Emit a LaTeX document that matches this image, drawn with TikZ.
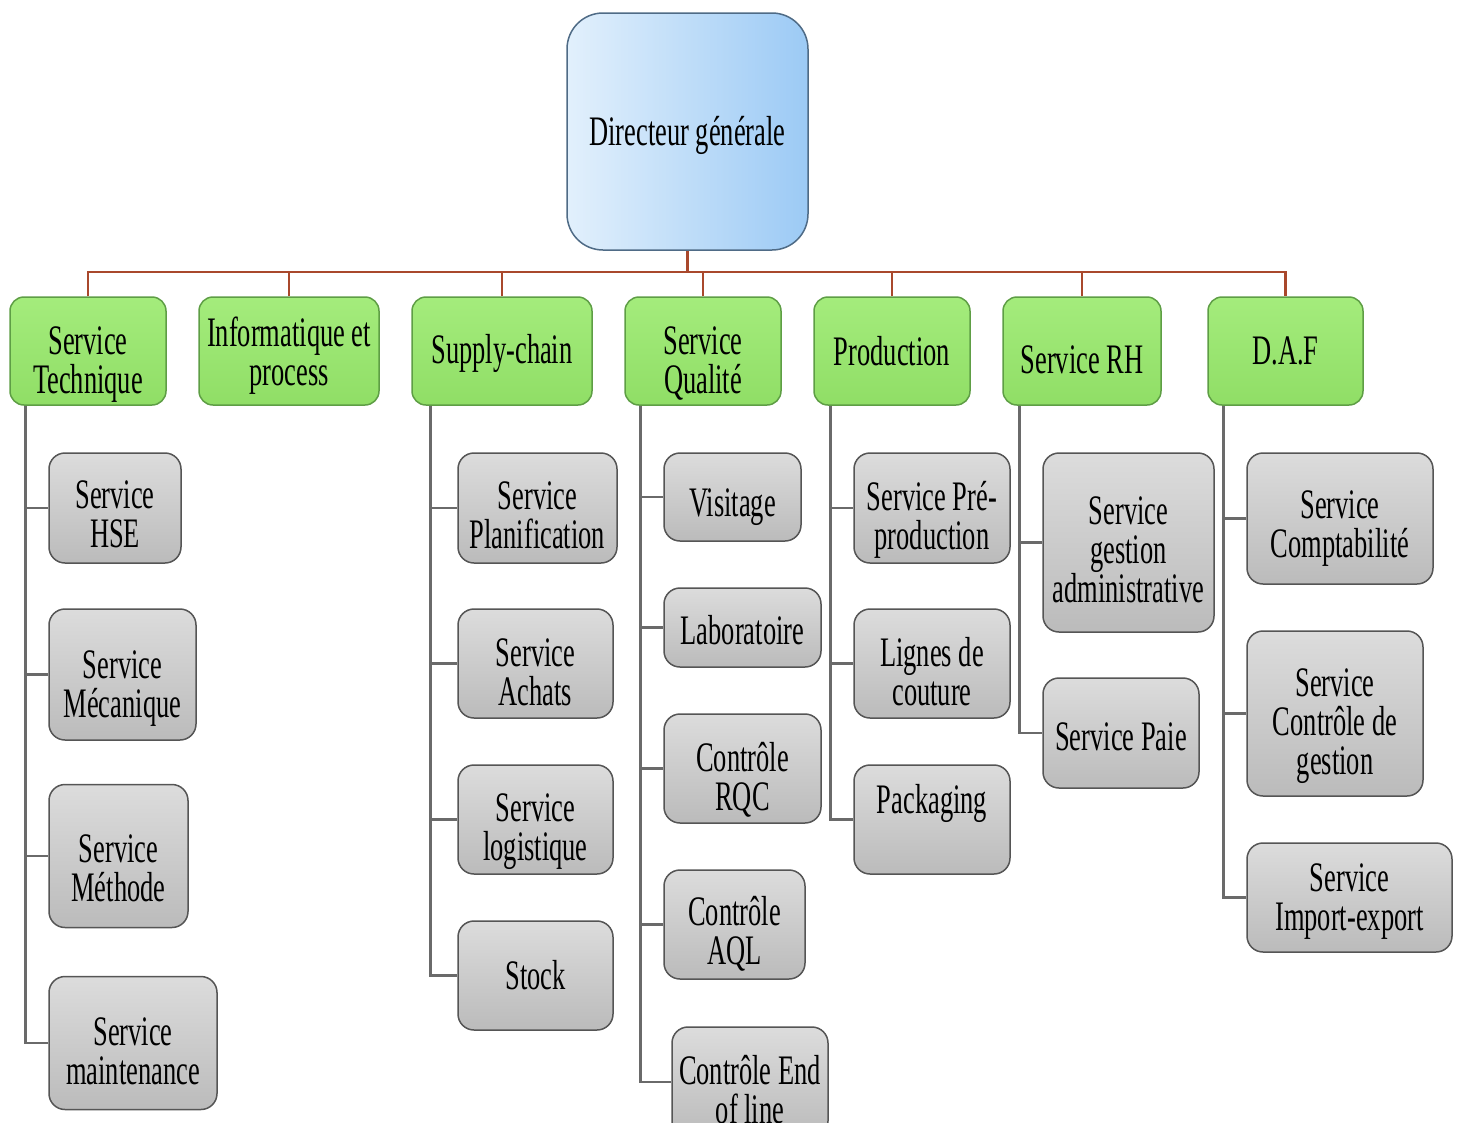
\documentclass[tikz,border=0pt]{standalone}
\usepackage{fontspec}
\setmainfont[FakeStretch=0.63]{Liberation Serif}
\usetikzlibrary{calc}

\definecolor{dirL}{HTML}{E2F0FC}
\definecolor{dirR}{HTML}{9CCAF5}
\definecolor{dirB}{HTML}{4F6B86}
\definecolor{grnT}{HTML}{A4EC7C}
\definecolor{grnB}{HTML}{90DE66}
\definecolor{grnD}{HTML}{5E9E45}
\definecolor{gryT}{HTML}{DCDCDC}
\definecolor{gryB}{HTML}{BBBBBB}
\definecolor{gryD}{HTML}{555555}
\definecolor{busC}{HTML}{A9482C}
\definecolor{lnkC}{HTML}{6A6A6A}

% strut on a first line that lowers the text of a box by #1 pt
\newcommand\txtdown[1]{\rule{0pt}{\numexpr 29+2*#1\relax pt}}

\tikzset{
  box/.style={align=center, inner sep=0pt, text=black,
              font=\fontsize{42}{39}\selectfont},
  sz/.style 2 args={minimum width=#1pt, minimum height=#2pt},
  dirbox/.style={box, draw=dirB, line width=1.5pt, rounded corners=36pt,
                 left color=dirL, right color=dirR},
  unitbox/.style={box, draw=grnD, line width=1.5pt, rounded corners=14pt,
                  top color=grnT, bottom color=grnB, sz={#1}{108}},
  subbox/.style={box, draw=gryD, line width=1.5pt, rounded corners=16pt,
                 top color=gryT, bottom color=gryB},
  bus/.style={draw=busC, line width=2.2pt},
  link/.style={draw=lnkC, line width=2.6pt},
}

\begin{document}
\begin{tikzpicture}[x=1pt, y=-1pt]
\useasboundingbox (0,0) rectangle (1461,1122);

% general management
\node[dirbox, sz={241}{237}] (dir) at (687.5,131.5) {\txtdown{4}Directeur générale};

% departments
\node[unitbox=156] (tech)   at (88,351)     {\txtdown{13}Service\\Technique};
\node[unitbox=180] (info)   at (289,351)    {\txtdown{5}Informatique et\\process};
\node[unitbox=180] (supply) at (502,351)    {\txtdown{3}Supply-chain};
\node[unitbox=156] (qual)   at (703,351)    {\txtdown{12}Service\\Qualité};
\node[unitbox=156] (prod)   at (892,351)    {Production};
\node[unitbox=158] (rh)     at (1082,351)   {\txtdown{8}Service RH};
\node[unitbox=155] (daf)    at (1285.5,351) {D.A.F};

% technical services
\node[subbox, sz={132}{110}] (hse)   at (115,508)     {\txtdown{6}Service\\HSE};
\node[subbox, sz={147}{131}] (meca)  at (122.5,674.5) {\txtdown{13}Service\\Mécanique};
\node[subbox, sz={139}{143}] (meth)  at (118.5,856)   {\txtdown{12}Service\\Méthode};
\node[subbox, sz={168}{133}] (maint) at (133,1043)    {\txtdown{8}Service\\maintenance};

% supply chain
\node[subbox, sz={159}{110}] (plan)   at (537.5,508)   {\txtdown{7}Service\\Planification};
\node[subbox, sz={155}{109}] (achats) at (535.5,663.5) {\txtdown{8}Service\\Achats};
\node[subbox, sz={155}{109}] (logi)   at (535.5,819.5) {\txtdown{12}Service\\logistique};
\node[subbox, sz={155}{109}] (stock)  at (535.5,975.5) {Stock};

% quality
\node[subbox, sz={137}{88}]  (visit) at (732.5,497)   {\txtdown{10}Visitage};
\node[subbox, sz={157}{79}]  (labo)  at (742.5,627.5) {\txtdown{3}Laboratoire};
\node[subbox, sz={157}{109}] (rqc)   at (742.5,768.5) {\txtdown{11}Contrôle\\RQC};
\node[subbox, sz={141}{109}] (aql)   at (734.5,924.5) {\txtdown{9}Contrôle\\AQL};
\node[subbox, sz={156}{110}] (eol)   at (750,1082)    {\txtdown{8}Contrôle End\\of line};

% production
\node[subbox, sz={156}{110}] (prepro) at (932,508)   {\txtdown{12}Service Pré-\\production};
\node[subbox, sz={156}{109}] (lignes) at (932,663.5) {\txtdown{8}Lignes de\\couture};
\node[subbox, sz={156}{109}, text depth=41pt] (pack) at (932,819.5) {Packaging};

% human resources
\node[subbox, sz={171}{179}] (gadm) at (1128.5,542.5) {\txtdown{7}Service\\gestion\\administrative};
\node[subbox, sz={156}{110}] (paie) at (1121,733)     {\txtdown{3}Service Paie};

% finance
\node[subbox, sz={186}{131}] (compta) at (1340,518.5)   {\txtdown{9}Service\\Comptabilité};
\node[subbox, sz={176}{165}] (ctrl)   at (1335,713.5)   {\txtdown{12}Service\\Contrôle de\\gestion};
\node[subbox, sz={205}{109}] (impex)  at (1349.5,897.5) {\txtdown{3}Service\\Import-export};

% top-level bus
\coordinate (bus) at (0,272);
\draw[bus] (dir.south) -- (dir.south |- bus);
\draw[bus] (tech.north) -- (tech.north |- bus) -- (daf.north |- bus) -- (daf.north);
\foreach \n in {info,supply,qual,prod,rh}
  \draw[bus] (\n.north) -- (\n.north |- bus);

% department to service links
\foreach \p/\o/\kids in {tech/16/{hse,meca,meth,maint},
                         supply/19/{plan,achats,logi,stock},
                         qual/16/{visit,labo,rqc,aql,eol},
                         prod/17/{prepro,lignes,pack},
                         rh/17/{gadm,paie},
                         daf/16/{compta,ctrl,impex}}
  \foreach \k in \kids
    \draw[link] ($(\p.south west)+(\o,0)$) |- (\k.west);
\end{tikzpicture}
\end{document}
